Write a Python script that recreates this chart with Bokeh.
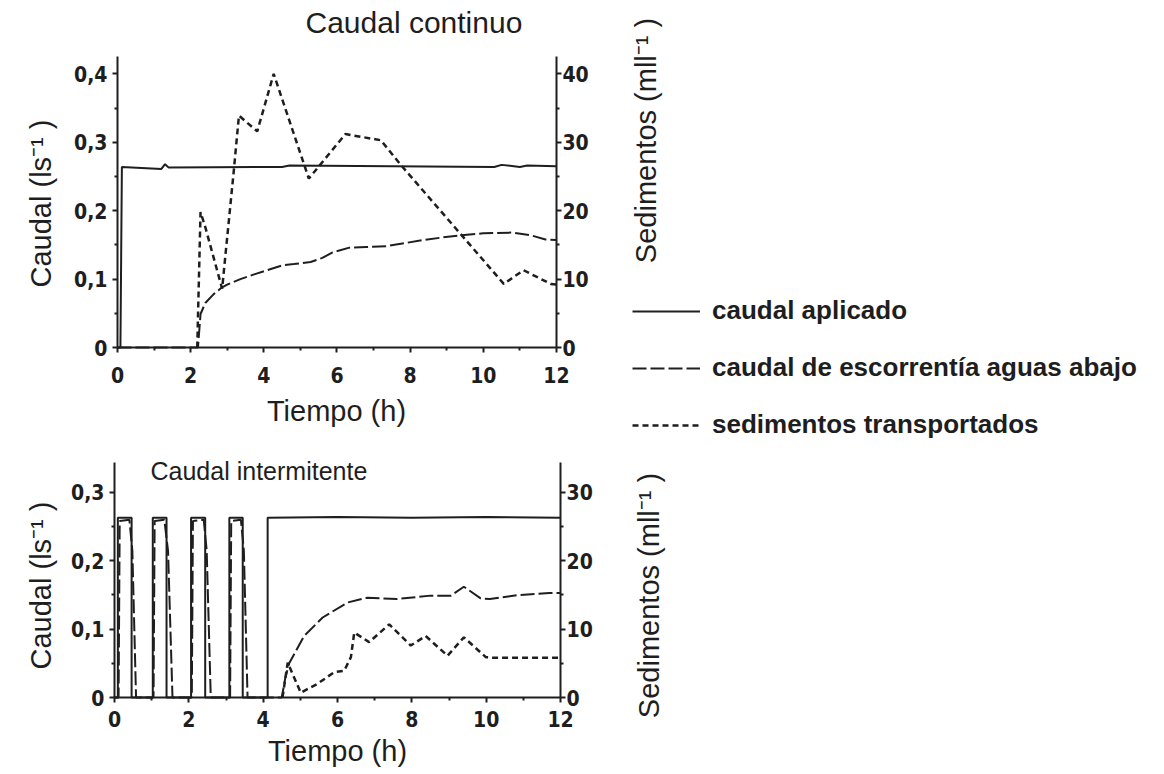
import math
from bokeh.plotting import figure
from bokeh.models import (Range1d, LinearAxis, FixedTicker, CustomJSTickFormatter,
                          Legend, LegendItem, Label)
from bokeh.embed import file_html
from bokeh.resources import INLINE

# ---------------- data: Caudal continuo ----------------
t_app_top = [0, 0.08, 0.12, 1.2, 1.3, 1.4, 4.5, 4.7, 10.3, 10.5, 11.0, 11.2, 12]
q_app_top = [0, 0, 0.264, 0.261, 0.268, 0.263, 0.264, 0.266, 0.264, 0.267, 0.264, 0.266, 0.265]

t_run_top = [0, 2.2, 2.27, 2.4, 2.63, 2.86, 3.0, 3.36, 3.8, 4.09, 4.5, 4.82, 5.28, 5.6,
             5.88, 6.34, 6.8, 7.34, 8.35, 8.9, 9.4, 10.0, 10.8, 11.3, 11.7, 12]
q_run_top = [0, 0, 0.049, 0.065, 0.078, 0.088, 0.092, 0.100, 0.108, 0.113, 0.120, 0.122,
             0.125, 0.131, 0.139, 0.146, 0.147, 0.148, 0.157, 0.161, 0.164, 0.167, 0.168,
             0.164, 0.158, 0.157]

t_sed_top = [2.18, 2.27, 2.4, 2.86, 3.18, 3.32, 3.82, 4.27, 5.23, 6.23, 7.2, 7.76,
             10.56, 11.1, 11.84, 12]
s_sed_top = [0, 19.8, 17.6, 8.6, 25.9, 33.9, 31.6, 40, 24.7, 31.2, 30.3, 26.6,
             9.3, 11.3, 9.3, 9.2]

# ---------------- data: Caudal intermitente ----------------
t_app_bot = [0, 0.09, 0.09, 0.46, 0.46, 1.03, 1.03, 1.40, 1.40, 2.06, 2.06, 2.44, 2.44,
             3.09, 3.09, 3.45, 3.45, 4.12, 4.12, 6.0, 8.0, 10.0, 12]
q_app_bot = [0, 0, 0.263, 0.263, 0, 0, 0.263, 0.263, 0, 0, 0.263, 0.263, 0,
             0, 0.263, 0.263, 0, 0, 0.263, 0.264, 0.263, 0.264, 0.263]

t_run_bot = [0, 0.11, 0.14, 0.40, 0.48, 0.58, 1.05, 1.08, 1.34, 1.44, 1.56, 2.08, 2.11,
             2.40, 2.48, 2.59, 3.11, 3.14, 3.40, 3.48, 3.58, 4.50, 4.60, 4.70, 4.85,
             5.10, 5.60, 6.27, 6.80, 7.60, 8.50, 9.05, 9.40, 9.85, 10.10, 10.90, 11.70, 12]
q_run_bot = [0, 0, 0.258, 0.260, 0.215, 0, 0, 0.258, 0.260, 0.215, 0, 0, 0.258,
             0.260, 0.215, 0, 0, 0.258, 0.260, 0.215, 0, 0, 0.030, 0.050, 0.065,
             0.090, 0.117, 0.139, 0.146, 0.144, 0.149, 0.149, 0.162, 0.145, 0.144,
             0.150, 0.153, 0.153]

t_sed_bot = [4.52, 4.66, 5.01, 5.46, 5.91, 6.18, 6.36, 6.45, 6.85, 7.39, 7.97, 8.37,
             8.96, 9.40, 9.99, 10.2, 12]
s_sed_bot = [0, 5.1, 0.7, 2.0, 3.7, 3.9, 5.9, 9.5, 8.1, 10.7, 7.6, 9.0,
             6.1, 8.8, 5.9, 5.8, 5.8]

# ---------------- ticks / labels ----------------
x_ticks = [0, 2, 4, 6, 8, 10, 12]
x_tick_labels = ["0", "2", "4", "6", "8", "10", "12"]
x_minor = [1, 3, 5, 7, 9, 11]
yq_ticks_top = [0, 0.1, 0.2, 0.3, 0.4]
yq_labels_top = ["0", "0,1", "0,2", "0,3", "0,4"]
yq_minor_top = [0.05, 0.15, 0.25, 0.35]
yq_ticks_bot = [0, 0.1, 0.2, 0.3]
yq_labels_bot = ["0", "0,1", "0,2", "0,3"]
yq_minor_bot = [0.05, 0.15, 0.25]
ys_ticks_top = [0, 10, 20, 30, 40]
ys_labels_top = ["0", "10", "20", "30", "40"]
ys_minor_top = [5, 15, 25, 35]
ys_ticks_bot = [0, 10, 20, 30]
ys_labels_bot = ["0", "10", "20", "30"]
ys_minor_bot = [5, 15, 25]

series_labels = ["caudal aplicado", "caudal de escorrentía aguas abajo",
                 "sedimentos transportados"]
title_top = "Caudal continuo"
title_bot = "Caudal intermitente"
x_label = "Tiempo (h)"
yq_label = "Caudal (ls\u207b\u00b9 )"
ys_label = "Sedimentos (mll\u207b\u00b9 )"

# ---------------- styling ----------------
INK = "#1e1e1e"
TICK_FONT = "'Liberation Sans Narrow', 'DejaVu Sans Condensed', sans-serif"
LABEL_FONT = "'Liberation Sans', Arial, sans-serif"
TICK_SIZE = "21px"
LABEL_SIZE = "29px"
RUN_DASH = "14 4"
SED_DASH = "6 4"

FMT_CODE = """
for (let i = 0; i < vals.length; i++) {
  if (Math.abs(vals[i] - tick) < 1e-9) { return labs[i]; }
}
return "";
"""


def style_axis(ax, ticks, minor, labels, tick_standoff):
    ax.ticker = FixedTicker(ticks=ticks, minor_ticks=minor)
    ax.formatter = CustomJSTickFormatter(args=dict(vals=ticks, labs=labels), code=FMT_CODE)
    ax.axis_line_color = INK
    ax.axis_line_width = 2
    ax.major_tick_line_color = INK
    ax.major_tick_line_width = 2
    ax.minor_tick_line_color = INK
    ax.minor_tick_line_width = 2
    ax.major_tick_out = 5
    ax.major_tick_in = 0
    ax.minor_tick_out = 3
    ax.minor_tick_in = 0
    ax.major_label_text_font = TICK_FONT
    ax.major_label_text_font_size = TICK_SIZE
    ax.major_label_text_font_style = "bold"
    ax.major_label_text_color = INK
    ax.major_label_standoff = tick_standoff


class Chart:
    """Page-pixel geometry of one chart (layout constants, not data)."""

    def __init__(self, g, yq_t, yq_m, yq_l, ys_t, ys_m, ys_l):
        self.g = g
        W, H = g["width"], g["height"]
        x_start = -g["x0"] / g["ux"]
        x_end = (W - g["x0"]) / g["ux"]
        y_start = -(g["root_top"] + H - g["y0"]) / g["uy"]
        y_end = (g["y0"] - g["root_top"]) / g["uy"]
        p = figure(frame_width=W, frame_height=H, x_range=Range1d(x_start, x_end),
                   y_range=Range1d(y_start, y_end), output_backend="svg",
                   toolbar_location=None, min_border_left=0, min_border_right=0,
                   min_border_top=0, min_border_bottom=0)
        p.outline_line_color = None
        p.xgrid.visible = False
        p.ygrid.visible = False
        p.background_fill_color = "white"
        p.border_fill_color = "white"
        xa = p.xaxis[0]
        style_axis(xa, x_ticks, x_minor, x_tick_labels, g["xstand"])
        xa.fixed_location = 0
        xa.bounds = (0, 12)
        ya = p.yaxis[0]
        style_axis(ya, yq_t, yq_m, yq_l, 5)
        ya.fixed_location = 0
        ya.bounds = (0, g["qmax"])
        p.extra_y_ranges = {"sed": Range1d(y_start * 100, y_end * 100)}
        ra = LinearAxis(y_range_name="sed", fixed_location=12,
                        bounds=(0, g["qmax"] * 100))
        style_axis(ra, ys_t, ys_m, ys_l, 1)
        p.add_layout(ra, "right")
        self.p = p

    def dx(self, px):
        return (px - self.g["x0"]) / self.g["ux"]

    def dy(self, py):
        return (self.g["y0"] - py) / self.g["uy"]

    def text(self, px, py, text, size, align="center", angle=0.0):
        self.p.add_layout(Label(x=self.dx(px), y=self.dy(py), text=text, text_align=align,
                                text_baseline="middle", angle=angle, text_font=LABEL_FONT,
                                text_font_size=size, text_font_style="normal",
                                text_color=INK))


geo_top = dict(root_top=0, width=1150, height=448, x0=117, ux=36.58, y0=347, uy=684.0,
               qmax=0.426, xstand=14)
geo_bot = dict(root_top=448, width=700, height=320, x0=114, ux=37.17, y0=697, uy=683.7,
               qmax=0.344, xstand=8)

# ---------- top ----------
top = Chart(geo_top, yq_ticks_top, yq_minor_top, yq_labels_top,
            ys_ticks_top, ys_minor_top, ys_labels_top)
top.text(305, 22, title_top, "30px", align="left")
top.text(336, 410, x_label, LABEL_SIZE)
top.text(40, 203, yq_label, LABEL_SIZE, angle=math.pi / 2)
top.text(645, 140, ys_label, LABEL_SIZE, angle=math.pi / 2)

p1 = top.p
r1 = p1.line(t_app_top, q_app_top, line_color=INK, line_width=2)
r2 = p1.line(t_run_top, q_run_top, line_color=INK, line_width=2, line_dash=RUN_DASH)
r3 = p1.line(t_sed_top, s_sed_top, y_range_name="sed", line_color=INK, line_width=2.5,
             line_dash=SED_DASH)

legend = Legend(items=[LegendItem(label=series_labels[0], renderers=[r1]),
                       LegendItem(label=series_labels[1], renderers=[r2]),
                       LegendItem(label=series_labels[2], renderers=[r3])],
                location=(632, 448 - 440), orientation="vertical")
legend.glyph_width = 68
legend.glyph_height = 30
legend.label_height = 30
legend.label_standoff = 12
legend.spacing = 26
legend.padding = 0
legend.margin = 0
legend.border_line_color = None
legend.background_fill_alpha = 0
legend.label_text_font = LABEL_FONT
legend.label_text_font_size = "26px"
legend.label_text_font_style = "bold"
legend.label_text_color = INK
p1.add_layout(legend, "center")

# ---------- bottom ----------
bot = Chart(geo_bot, yq_ticks_bot, yq_minor_bot, yq_labels_bot,
            ys_ticks_bot, ys_minor_bot, ys_labels_bot)
bot.text(150, 470, title_bot, "25px", align="left")
bot.text(337, 750, x_label, LABEL_SIZE)
bot.text(40, 585, yq_label, LABEL_SIZE, angle=math.pi / 2)
bot.text(648, 595, ys_label, LABEL_SIZE, angle=math.pi / 2)

p2 = bot.p
p2.line(t_app_bot, q_app_bot, line_color=INK, line_width=2)
p2.line(t_run_bot, q_run_bot, line_color=INK, line_width=2, line_dash=RUN_DASH)
p2.line(t_sed_bot, s_sed_bot, y_range_name="sed", line_color=INK, line_width=2.5,
        line_dash=SED_DASH)

open("out.html", "w").write(file_html([p1, p2], INLINE))
